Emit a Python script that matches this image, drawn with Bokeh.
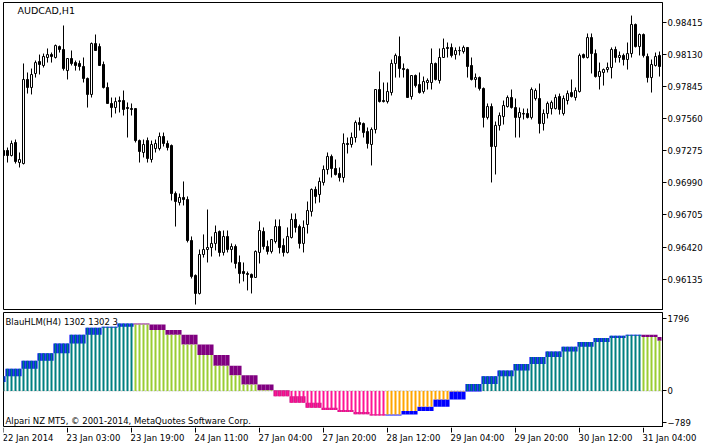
from bokeh.plotting import figure
from bokeh.layouts import column
from bokeh.models import Range1d, FixedTicker, PrintfTickFormatter, Span, Label, ColumnDataSource
from bokeh.core.properties import value
from bokeh.embed import file_html
from bokeh.resources import INLINE

# ---------------- data: AUDCAD H1 candles ----------------
open_ = [0.97277, 0.97277, 0.97232, 0.97348, 0.97170, 0.97161, 0.97907, 0.97836, 0.97960, 0.98066,
         0.98031, 0.98102, 0.98128, 0.98102, 0.98199, 0.98173, 0.97986, 0.98093, 0.98057, 0.98049,
         0.98022, 0.97916, 0.97774, 0.98226, 0.98199, 0.98040, 0.97836, 0.97694, 0.97658, 0.97720,
         0.97720, 0.97658, 0.97649, 0.97649, 0.97365, 0.97259, 0.97365, 0.97197, 0.97294, 0.97294,
         0.97401, 0.97339, 0.97321, 0.96895, 0.96815, 0.96860, 0.96842, 0.96478, 0.96168, 0.96008,
         0.96354, 0.96398, 0.96416, 0.96452, 0.96558, 0.96372, 0.96514, 0.96398, 0.96425, 0.96283,
         0.96203, 0.96185, 0.96177, 0.96150, 0.96372, 0.96558, 0.96425, 0.96381, 0.96469, 0.96602,
         0.96434, 0.96372, 0.96505, 0.96665, 0.96602, 0.96452, 0.96620, 0.96736, 0.96931, 0.96886,
         0.96993, 0.97108, 0.97224, 0.97117, 0.97073, 0.97037, 0.97339, 0.97330, 0.97392, 0.97525,
         0.97516, 0.97445, 0.97330, 0.97463, 0.97818, 0.97720, 0.97711, 0.97791, 0.98049, 0.98111,
         0.98004, 0.97995, 0.97756, 0.97942, 0.97862, 0.97800, 0.97880, 0.97880, 0.98049, 0.97898,
         0.98102, 0.98191, 0.98191, 0.98128, 0.98164, 0.98155, 0.98191, 0.98031, 0.97907, 0.97924,
         0.97827, 0.97570, 0.97667, 0.97312, 0.97499, 0.97578, 0.97667, 0.97747, 0.97658, 0.97570,
         0.97605, 0.97605, 0.97570, 0.97738, 0.97738, 0.97516, 0.97605, 0.97649, 0.97649, 0.97756,
         0.97605, 0.97720, 0.97791, 0.97747, 0.97800, 0.98128, 0.98102, 0.98279, 0.98137, 0.97933,
         0.97969, 0.97995, 0.98013, 0.98173, 0.98102, 0.98120, 0.98084, 0.98137, 0.98395, 0.98199,
         0.98306, 0.98111, 0.97924, 0.98031, 0.98120]
high = [0.97321, 0.97303, 0.97365, 0.97374, 0.97259, 0.98049, 0.97969, 0.98004, 0.98075, 0.98128,
        0.98137, 0.98182, 0.98146, 0.98217, 0.98208, 0.98386, 0.98093, 0.98164, 0.98075, 0.98075,
        0.98102, 0.97924, 0.98235, 0.98306, 0.98226, 0.98066, 0.97880, 0.97747, 0.97747, 0.97756,
        0.97809, 0.97703, 0.97694, 0.97649, 0.97374, 0.97374, 0.97392, 0.97365, 0.97374, 0.97436,
        0.97436, 0.97365, 0.97330, 0.96913, 0.96895, 0.97002, 0.96869, 0.96514, 0.96177, 0.96398,
        0.96532, 0.96753, 0.96514, 0.96611, 0.96567, 0.96567, 0.96567, 0.96452, 0.96443, 0.96345,
        0.96283, 0.96203, 0.96185, 0.96390, 0.96647, 0.96594, 0.96478, 0.96487, 0.96665, 0.96665,
        0.96496, 0.96594, 0.96718, 0.96718, 0.96620, 0.96656, 0.96824, 0.96940, 0.96957, 0.97037,
        0.97144, 0.97259, 0.97241, 0.97197, 0.97126, 0.97428, 0.97392, 0.97436, 0.97543, 0.97570,
        0.97525, 0.97481, 0.97481, 0.97818, 0.97978, 0.97880, 0.97880, 0.98084, 0.98137, 0.98288,
        0.98049, 0.98004, 0.97942, 0.97951, 0.97969, 0.97933, 0.97916, 0.98182, 0.98057, 0.98182,
        0.98270, 0.98235, 0.98226, 0.98191, 0.98199, 0.98208, 0.98191, 0.98102, 0.97960, 0.97933,
        0.97836, 0.97694, 0.97694, 0.97534, 0.97614, 0.97720, 0.97765, 0.97818, 0.97738, 0.97658,
        0.97649, 0.97649, 0.97836, 0.97827, 0.97871, 0.97641, 0.97711, 0.97720, 0.97774, 0.97782,
        0.97765, 0.97809, 0.97907, 0.97836, 0.98137, 0.98137, 0.98315, 0.98315, 0.98173, 0.98057,
        0.98004, 0.98057, 0.98191, 0.98199, 0.98155, 0.98137, 0.98235, 0.98474, 0.98403, 0.98315,
        0.98315, 0.98137, 0.98084, 0.98146, 0.98155]
low = [0.97206, 0.97170, 0.97224, 0.97161, 0.97126, 0.97153, 0.97782, 0.97774, 0.97924, 0.97951,
       0.98013, 0.98057, 0.98057, 0.98093, 0.98146, 0.97986, 0.97907, 0.98031, 0.97986, 0.97986,
       0.97880, 0.97658, 0.97747, 0.98164, 0.98031, 0.97827, 0.97694, 0.97570, 0.97605, 0.97614,
       0.97587, 0.97392, 0.97587, 0.97348, 0.97170, 0.97215, 0.97170, 0.97170, 0.97259, 0.97277,
       0.97312, 0.97277, 0.96833, 0.96602, 0.96789, 0.96789, 0.96461, 0.96141, 0.95910, 0.95999,
       0.96327, 0.96283, 0.96336, 0.96390, 0.96336, 0.96345, 0.96372, 0.96283, 0.96230, 0.96097,
       0.96115, 0.96035, 0.96008, 0.96150, 0.96274, 0.96398, 0.96354, 0.96363, 0.96452, 0.96363,
       0.96336, 0.96363, 0.96496, 0.96549, 0.96407, 0.96372, 0.96540, 0.96691, 0.96807, 0.96815,
       0.96966, 0.97064, 0.97037, 0.97055, 0.97002, 0.96993, 0.97250, 0.97303, 0.97348, 0.97454,
       0.97392, 0.97294, 0.97144, 0.97428, 0.97703, 0.97703, 0.97694, 0.97765, 0.97924, 0.97924,
       0.97924, 0.97747, 0.97729, 0.97836, 0.97782, 0.97782, 0.97818, 0.97818, 0.97898, 0.97871,
       0.98102, 0.98102, 0.98102, 0.98084, 0.98120, 0.98137, 0.97924, 0.97898, 0.97836, 0.97809,
       0.97481, 0.97552, 0.96993, 0.97064, 0.97454, 0.97507, 0.97658, 0.97649, 0.97392, 0.97392,
       0.97552, 0.97561, 0.97552, 0.97720, 0.97428, 0.97454, 0.97561, 0.97596, 0.97641, 0.97596,
       0.97587, 0.97685, 0.97747, 0.97720, 0.97791, 0.98093, 0.98093, 0.97960, 0.97924, 0.97818,
       0.97853, 0.97969, 0.97916, 0.98057, 0.98057, 0.98031, 0.97995, 0.98102, 0.98191, 0.98120,
       0.98102, 0.97880, 0.97791, 0.98022, 0.97933]
close = [0.97232, 0.97232, 0.97339, 0.97179, 0.97197, 0.97907, 0.97836, 0.97951, 0.98057, 0.98040,
         0.98111, 0.98128, 0.98111, 0.98208, 0.98173, 0.98004, 0.98093, 0.98049, 0.98031, 0.98022,
         0.97916, 0.97774, 0.98226, 0.98164, 0.98031, 0.97836, 0.97694, 0.97658, 0.97711, 0.97711,
         0.97641, 0.97649, 0.97641, 0.97365, 0.97268, 0.97330, 0.97206, 0.97330, 0.97339, 0.97401,
         0.97339, 0.97303, 0.96895, 0.96824, 0.96860, 0.96842, 0.96478, 0.96159, 0.96008, 0.96354,
         0.96398, 0.96416, 0.96452, 0.96549, 0.96372, 0.96514, 0.96398, 0.96425, 0.96274, 0.96185,
         0.96185, 0.96177, 0.96150, 0.96381, 0.96567, 0.96425, 0.96381, 0.96487, 0.96602, 0.96416,
         0.96372, 0.96514, 0.96665, 0.96594, 0.96452, 0.96594, 0.96744, 0.96931, 0.96869, 0.97002,
         0.97108, 0.97224, 0.97117, 0.97064, 0.97037, 0.97339, 0.97330, 0.97392, 0.97525, 0.97507,
         0.97436, 0.97339, 0.97463, 0.97818, 0.97711, 0.97711, 0.97800, 0.98049, 0.98120, 0.98004,
         0.97995, 0.97747, 0.97942, 0.97853, 0.97791, 0.97889, 0.97898, 0.98049, 0.97907, 0.98102,
         0.98182, 0.98182, 0.98120, 0.98164, 0.98162, 0.98191, 0.98022, 0.97907, 0.97924, 0.97827,
         0.97570, 0.97667, 0.97312, 0.97499, 0.97587, 0.97676, 0.97747, 0.97658, 0.97570, 0.97614,
         0.97600, 0.97570, 0.97818, 0.97809, 0.97516, 0.97605, 0.97694, 0.97703, 0.97747, 0.97641,
         0.97738, 0.97782, 0.97756, 0.97809, 0.98120, 0.98102, 0.98279, 0.98137, 0.97933, 0.97978,
         0.97995, 0.98013, 0.98173, 0.98102, 0.98120, 0.98084, 0.98137, 0.98395, 0.98199, 0.98306,
         0.98120, 0.97924, 0.98040, 0.98111, 0.98022]

price_ticks = [0.96135, 0.96420, 0.96705, 0.96990, 0.97275, 0.97560, 0.97845, 0.98130, 0.98415]

time_tick_bars = [0, 16, 32, 48, 64, 80, 96, 112, 128, 144, 160]
time_labels = ["22 Jan 2014", "23 Jan 03:00", "23 Jan 19:00", "24 Jan 11:00", "27 Jan 04:00",
               "27 Jan 20:00", "28 Jan 12:00", "29 Jan 04:00", "29 Jan 20:00", "30 Jan 12:00",
               "31 Jan 04:00"]

# ---------------- data: BlauHLM(H4) indicator, one value per H4 bar ----------------
hlm_step_bars = [1] + [4] * 14 + [3] + [4] * 26 + [1]
hlm_step_values = [360, 544, 742, 927, 1166, 1382, 1557, 1581, 1662, 1638, 1502, 1382, 1142, 886,
                   620, 383, 160, 15, -130, -290, -415, -470, -518, -575, -605, -580, -493, -390,
                   -215, -15, 168, 359, 503, 663, 838, 968, 1087, 1207, 1303, 1358, 1382, 1327,
                   1238]
hlm_first_open = 220
hlm_ticks = [-789, 0, 1796]

# ---------------- build sources ----------------
N = len(close)
idx = list(range(N))
bull = [c >= o for o, c in zip(open_, close)]
candles = ColumnDataSource(dict(
    x=idx, high=high, low=low,
    top=[max(o, c) for o, c in zip(open_, close)],
    bottom=[min(o, c) for o, c in zip(open_, close)],
    fill=["white" if b else "black" for b in bull],
))

h_close, h_open = [], []
prev = hlm_first_open
for n, v in zip(hlm_step_bars, hlm_step_values):
    h_close += [v] * n
    h_open += [prev] * n
    prev = v

hist_col, band_col = [], []
for o, c in zip(h_open, h_close):
    rising = c > o
    if c >= 0:
        hist_col.append("#008080" if rising else "#9ACD32")
    else:
        hist_col.append("#FFA500" if rising else "#FF1493")
    band_col.append("#0000FF" if rising else ("#800080" if c >= 0 else "#C71585"))

ind = ColumnDataSource(dict(
    x=idx, val=h_close,
    btop=[max(o, c) for o, c in zip(h_open, h_close)],
    bbot=[min(o, c) for o, c in zip(h_open, h_close)],
    hcol=hist_col, bcol=band_col,
))

FONT = "DejaVu Sans"
LEFT = 3
FW = 659
RB = 714 - LEFT - FW
X0, X1 = 0.0, 164.75
xr = Range1d(X0, X1)


def style_axis(ax):
    ax.axis_line_color = "black"
    ax.major_tick_line_color = "black"
    ax.major_tick_out = 4
    ax.major_tick_in = 0
    ax.minor_tick_line_color = None
    ax.major_label_standoff = 1
    ax.major_label_text_font = FONT
    ax.major_label_text_font_size = "8.5px"
    ax.major_label_text_color = "black"


# ---------------- main price panel ----------------
p1 = figure(frame_width=FW, frame_height=308, x_range=xr, y_range=Range1d(0.95857, 0.98590),
            output_backend="svg", toolbar_location=None, x_axis_location=None,
            y_axis_location="right", min_border_left=LEFT, min_border_right=RB,
            min_border_top=2, min_border_bottom=0)
p1.grid.visible = False
p1.outline_line_color = "black"
p1.yaxis.ticker = FixedTicker(ticks=price_ticks)
p1.yaxis.formatter = PrintfTickFormatter(format="%.5f")
style_axis(p1.yaxis)

p1.segment(x0="x", y0="high", x1="x", y1="low", source=candles, line_color="black", line_width=1)
p1.vbar(x="x", top="top", bottom="bottom", width=0.5, source=candles,
        fill_color="fill", line_color="black", line_width=1)
p1.add_layout(Label(x=14, y=300, x_units="screen", y_units="screen", text="AUDCAD,H1",
                    text_font=FONT, text_font_size="9.5px", text_baseline="middle",
                    text_color="black"))

# ---------------- indicator panel ----------------
p2 = figure(frame_width=FW, frame_height=115, x_range=xr, y_range=Range1d(-902, 1932),
            output_backend="svg", toolbar_location=None, x_axis_location=None,
            y_axis_location="right", min_border_left=LEFT, min_border_right=RB,
            min_border_top=2, min_border_bottom=0)
p2.grid.visible = False
p2.outline_line_color = "black"
p2.yaxis.ticker = FixedTicker(ticks=hlm_ticks)
style_axis(p2.yaxis)

p2.add_layout(Span(location=0, dimension="width", line_color="#C0C0C0", line_dash="2 1",
                   line_width=1, level="underlay"))
p2.vbar(x="x", top="btop", bottom="bbot", width=1.02, source=ind,
        fill_color="bcol", line_color=None)
p2.vbar(x="x", top="val", bottom=0, width=0.5, source=ind, fill_color="hcol", line_color=None)
p2.add_layout(Label(x=2, y=105.5, x_units="screen", y_units="screen",
                    text="BlauHLM(H4) 1302 1302 3", text_font=FONT, text_font_size="8.5px",
                    text_baseline="middle", text_color="black"))
p2.add_layout(Label(x=2, y=7, x_units="screen", y_units="screen",
                    text="Alpari NZ MT5, \u00a9 2001-2014, MetaQuotes Software Corp.",
                    text_font=FONT, text_font_size="8.5px", text_baseline="middle",
                    text_color="black"))

# ---------------- time scale strip ----------------
TW = 714 - LEFT
p3 = figure(frame_width=TW, frame_height=21,
            x_range=Range1d(X0, X0 + TW * (X1 - X0) / FW), y_range=Range1d(0, 21),
            output_backend="svg", toolbar_location=None, x_axis_location=None,
            y_axis_location=None, min_border_left=LEFT, min_border_right=0,
            min_border_top=0, min_border_bottom=0)
p3.grid.visible = False
p3.outline_line_color = None
p3.segment(x0=time_tick_bars, y0=[21] * len(time_tick_bars), x1=time_tick_bars,
           y1=[16] * len(time_tick_bars), line_color="black", line_width=1)
p3.text(x=time_tick_bars, y=[10.5] * len(time_tick_bars), text=time_labels,
        text_font=value(FONT), text_font_size="8.5px", text_align="left",
        text_baseline="middle", x_offset=-1, text_color="black")

layout = column(p1, p2, p3, spacing=0)
open("out.html", "w").write(file_html(layout, INLINE))
